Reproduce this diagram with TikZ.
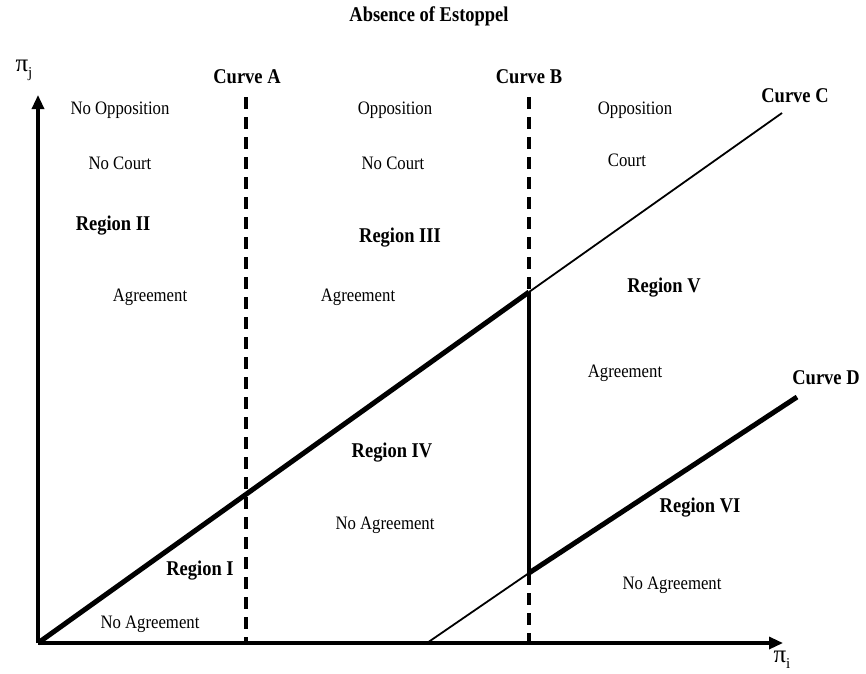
\documentclass[tikz,border=0pt]{standalone}
\usepackage{fontspec}
\setmainfont[FakeStretch=0.88]{Liberation Serif}
\newfontfamily\pifont{Liberation Serif}
\usetikzlibrary{arrows.meta}
\begin{document}
\begin{tikzpicture}[x=1pt,y=-1pt,
  lbl/.style={font=\fontsize{19}{20}\selectfont, inner sep=0pt},
  reg/.style={font=\bfseries\fontsize{21}{22}\selectfont, inner sep=0pt},
  ttl/.style={font=\bfseries\fontsize{21}{22}\selectfont, inner sep=0pt},
  axislbl/.style={inner sep=0pt, font=\pifont},
  axisline/.style={line width=3.2pt, -{Triangle[length=14pt,width=12pt]}},
  dashedline/.style={line width=3.2pt, dash pattern=on 12pt off 8pt},
  thinline/.style={line width=1.8pt},
  thickline/.style={line width=5pt},
  bline/.style={line width=3.2pt}]
\useasboundingbox (0,0) rectangle (866,673);
% coordinates
\coordinate (O) at (38,643);
\coordinate (ytip) at (38,95);
\coordinate (xtip) at (783,643);
\coordinate (Atop) at (246,97);
\coordinate (Abot) at (246,643);
\coordinate (Btop) at (529,97);
\coordinate (Bbot) at (529,643);
\coordinate (P) at (529,292);
\coordinate (Q) at (529,573);
\coordinate (Cend) at (782,113);
\coordinate (Dstart) at (427,643);
\coordinate (Dend) at (797,397);
% title
\node[ttl] (title) at (429,16) {Absence of Estoppel};
% axes
\draw[axisline] (O) -- (ytip);
\draw[axisline] (O) -- (xtip);
\node[axislbl] (pij) at (24,70) {\fontsize{25}{25}\selectfont π\raisebox{-6pt}{\fontsize{15}{15}\selectfont j}};
\node[axislbl] (pii) at (782,660) {\fontsize{25}{25}\selectfont π\raisebox{-6pt}{\fontsize{15}{15}\selectfont i}};
% curve A
\draw[dashedline] (Atop) -- (Abot);
\node[reg] (cA) at (247,77) {Curve A};
% curve B
\draw[dashedline] (Btop) -- (P);
\draw[bline] (P) -- (Q);
\draw[dashedline] (Q) -- (Bbot);
\node[reg] (cB) at (529,77) {Curve B};
% curve C
\draw[thickline] (O) -- (P);
\draw[thinline] (P) -- (Cend);
\node[reg] (cC) at (795,96) {Curve C};
% curve D
\draw[thinline] (Dstart) -- (Q);
\draw[thickline] (Q) -- (Dend);
\node[reg] (cD) at (826,378) {Curve D};
% region texts
\node[lbl] (t1) at (120,110) {No Opposition};
\node[lbl] (t2) at (120,163) {No Court};
\node[reg] (r2) at (113,226) {Region II};
\node[lbl] (t3) at (150,297) {Agreement};
\node[lbl] (t4) at (395,110) {Opposition};
\node[lbl] (t5) at (393,163) {No Court};
\node[reg] (r3) at (400,238) {Region III};
\node[lbl] (t6) at (358,297) {Agreement};
\node[lbl] (t7) at (635,110) {Opposition};
\node[lbl] (t8) at (627,160) {Court};
\node[reg] (r5) at (664,288) {Region V};
\node[lbl] (t9) at (625,373) {Agreement};
\node[reg] (r4) at (392,453) {Region IV};
\node[lbl] (t10) at (385,525) {No Agreement};
\node[reg] (r1) at (200,571) {Region I};
\node[lbl] (t11) at (150,624) {No Agreement};
\node[reg] (r6) at (700,508) {Region VI};
\node[lbl] (t12) at (672,585) {No Agreement};
\end{tikzpicture}
\end{document}
